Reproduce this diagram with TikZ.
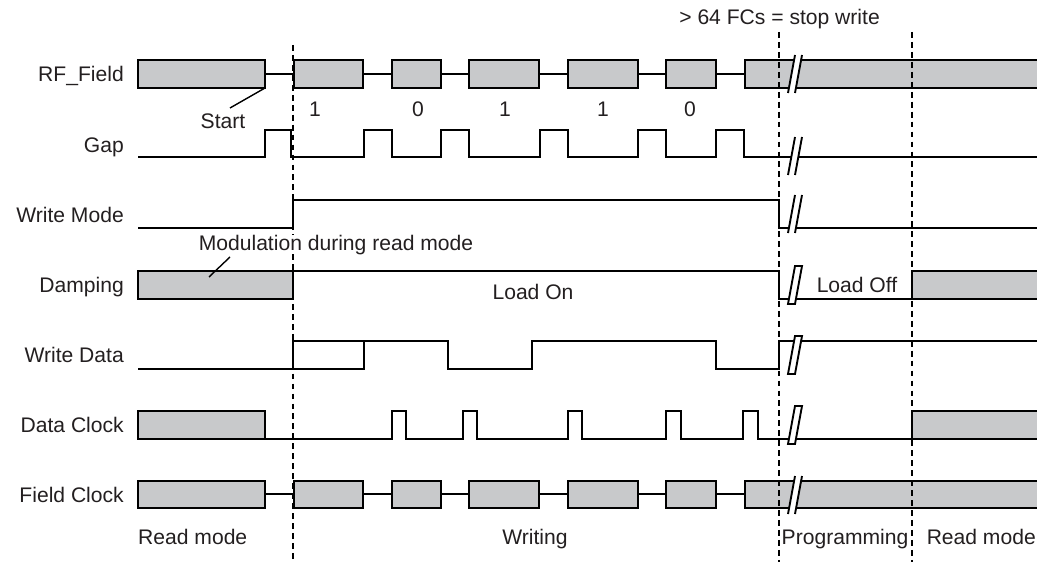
\documentclass[tikz,border=0pt]{standalone}
\usepackage{fontspec}
\setmainfont{Liberation Sans}
\definecolor{boxgray}{RGB}{200,201,203}
\definecolor{inkgray}{RGB}{35,31,32}
% break marks where the time axis is cut
\newcommand{\cutopen}[1]{%
  \fill[white] (788,#1+19) -- (795,#1-19) -- (802,#1-19) -- (795,#1+19) -- cycle;
  \draw[sig] (788,#1+19) -- (795,#1-19) (795,#1+19) -- (802,#1-19);}
\newcommand{\cutclosed}[1]{%
  \filldraw[sig,fill=white] (788,#1+19) -- (795,#1-19) -- (802,#1-19) -- (795,#1+19) -- cycle;}
\begin{document}
\begin{tikzpicture}[x=0.03cm,y=-0.03cm,
    sig/.style={line width=1.6pt},
    bar/.style={sig,fill=boxgray},
    phase/.style={line width=1.2pt,dash pattern=on 5pt off 3.5pt},
    lbl/.style={text=inkgray,font=\fontsize{18}{21}\selectfont,inner sep=0pt}]
    \useasboundingbox (0,0) rectangle (1037,562);
    % RF_Field
    \draw[sig] (265,74) -- (1000,74);
    \draw[bar] (138,60) rectangle (265,88);
    \draw[bar] (294,60) rectangle (363,88);
    \draw[bar] (392,60) rectangle (441,88);
    \draw[bar] (469,60) rectangle (539,88);
    \draw[bar] (568,60) rectangle (638,88);
    \draw[bar] (666,60) rectangle (716,88);
    \draw[bar] (745,60) rectangle (1045,88);
    % Gap
    \draw[sig] (138,157) -- (265,157) -- (265,130) -- (291,130) -- (291,157)
      -- (364,157) -- (364,130) -- (392,130) -- (392,157)
      -- (441,157) -- (441,130) -- (469,130) -- (469,157)
      -- (540,157) -- (540,130) -- (568,130) -- (568,157)
      -- (638,157) -- (638,130) -- (666,130) -- (666,157)
      -- (716,157) -- (716,130) -- (744,130) -- (744,157) -- (1045,157);
    % Write Mode
    \draw[sig] (138,228) -- (293,228) -- (293,200) -- (779,200) -- (779,228) -- (1045,228);
    % Damping
    \draw[bar] (138,271) rectangle (293,299);
    \draw[sig] (293,271) -- (779,271) -- (779,299) -- (912,299);
    \draw[bar] (912,271) rectangle (1045,299);
    % Write Data
    \draw[sig] (138,369) -- (364,369) -- (364,341);
    \draw[sig] (293,369) -- (293,341) -- (448,341) -- (448,369) -- (532,369) -- (532,341)
      -- (716,341) -- (716,369) -- (779,369) -- (779,341) -- (1045,341);
    % Data Clock
    \draw[bar] (138,411) rectangle (265,439);
    \draw[sig] (265,439) -- (392,439) -- (392,411) -- (406,411) -- (406,439)
      -- (463,439) -- (463,411) -- (477,411) -- (477,439)
      -- (568,439) -- (568,411) -- (582,411) -- (582,439)
      -- (666,439) -- (666,411) -- (681,411) -- (681,439)
      -- (743,439) -- (743,411) -- (758,411) -- (758,439) -- (912,439);
    \draw[bar] (912,411) rectangle (1045,439);
    % Field Clock
    \draw[sig] (265,494) -- (1000,494);
    \draw[bar] (138,481) rectangle (265,508);
    \draw[bar] (294,481) rectangle (363,508);
    \draw[bar] (392,481) rectangle (441,508);
    \draw[bar] (469,481) rectangle (539,508);
    \draw[bar] (568,481) rectangle (638,508);
    \draw[bar] (666,481) rectangle (716,508);
    \draw[bar] (745,481) rectangle (1045,508);
    % phase borders
    \draw[phase] (293,45) -- (293,562);
    \draw[phase] (779,32) -- (779,562);
    \draw[phase] (912,32) -- (912,562);
    % cuts
    \cutopen{74}
    \cutopen{156}
    \cutopen{214}
    \cutclosed{285}
    \cutclosed{355}
    \cutclosed{425}
    \cutopen{495}
    % signal names
    \node[lbl,anchor=base east] (rfname) at (124,82) {RF\_Field};
    \node[lbl,anchor=base east] (gapname) at (124,152) {Gap};
    \node[lbl,anchor=base east] (modename) at (124,222) {Write Mode};
    \node[lbl,anchor=base east] (dampname) at (124,292) {Damping};
    \node[lbl,anchor=base east] (dataname) at (124,362) {Write Data};
    \node[lbl,anchor=base east] (dclkname) at (124,432) {Data Clock};
    \node[lbl,anchor=base east] (fclkname) at (124,502) {Field Clock};
    % bits
    \node[lbl,anchor=base] (bita) at (315,116) {1};
    \node[lbl,anchor=base] (bitb) at (418,116) {0};
    \node[lbl,anchor=base] (bitc) at (505,116) {1};
    \node[lbl,anchor=base] (bitd) at (603,116) {1};
    \node[lbl,anchor=base] (bite) at (690,116) {0};
    % notes
    \node[lbl,anchor=base] (start) at (223,128) {Start};
    \draw[sig,line width=1.2pt] (265,88) -- (230,108);
    \node[lbl,anchor=base,fill=white] (modnote) at (336,250) {Modulation during read mode};
    \draw[sig,line width=1.2pt] (230,257) -- (209,277);
    \node[lbl,anchor=base] (loadon) at (533,299) {Load On};
    \node[lbl,anchor=base] (loadoff) at (857,292) {Load Off};
    \node[lbl,anchor=base east] (stopnote) at (880,25) {> 64 FCs = stop write};
    % phases
    \node[lbl,anchor=base west] (reada) at (138,544) {Read mode};
    \node[lbl,anchor=base] (writing) at (535,544) {Writing};
    \node[lbl,anchor=base] (prog) at (845,544) {Programming};
    \node[lbl,anchor=base east] (readb) at (1036,544) {Read mode};
\end{tikzpicture}
\end{document}
